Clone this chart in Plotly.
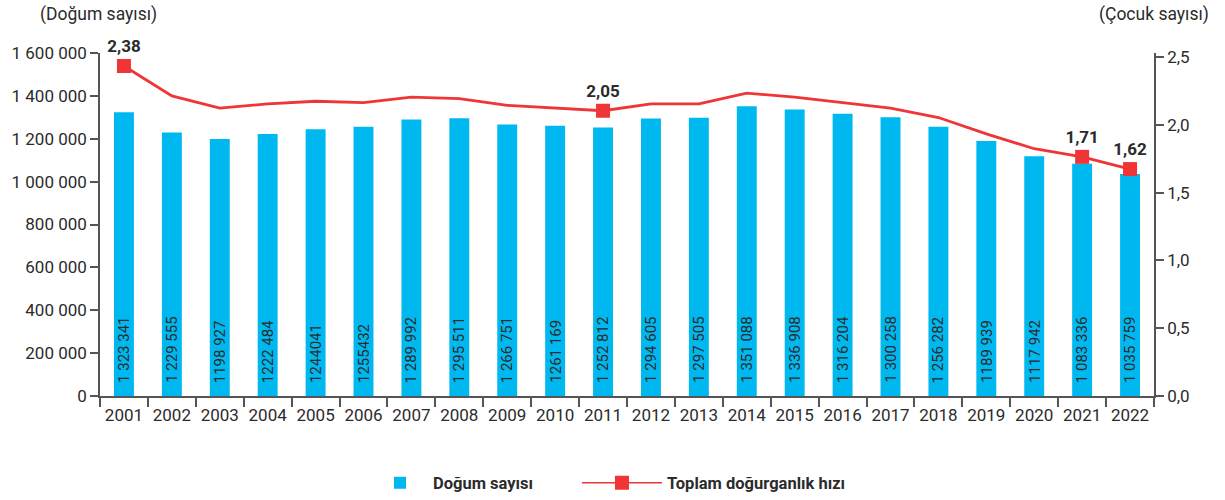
import plotly.graph_objects as go

years = [str(y) for y in range(2001, 2023)]
births = [1323341, 1229555, 1198927, 1222484, 1244041, 1255432, 1289992, 1295511,
          1266751, 1261169, 1252812, 1294605, 1297505, 1351088, 1336908, 1316204,
          1300258, 1256282, 1189939, 1117942, 1083336, 1035759]
birth_labels = ["1 323 341", "1 229 555", "1198 927", "1222 484", "1244041", "1255432",
                "1 289 992", "1 295 511", "1 266 751", "1261 169", "1 252 812", "1 294 605",
                "1 297 505", "1 351 088", "1 336 908", "1 316 204", "1 300 258", "1 256 282",
                "1189 939", "1117 942", "1 083 336", "1 035 759"]
tfr = [2.38, 2.16, 2.07, 2.10, 2.12, 2.11, 2.15, 2.14, 2.09, 2.07, 2.05, 2.10,
       2.10, 2.18, 2.15, 2.11, 2.07, 2.00, 1.88, 1.77, 1.71, 1.62]
highlight_years = ["2001", "2011", "2021", "2022"]
left_ticks = [0, 200000, 400000, 600000, 800000, 1000000, 1200000, 1400000, 1600000]
right_ticks = [0.0, 0.5, 1.0, 1.5, 2.0, 2.5]

BAR = "#00b8f0"
RED = "#ef3535"
TXT = "#2b2b2b"
AX = "#555555"
FONT = "Roboto"

hl_y = [v if y in highlight_years else None for y, v in zip(years, tfr)]
hl_txt = [("<b>%.2f</b>" % v).replace(".", ",") if v is not None else "" for v in hl_y]

fig = go.Figure()
fig.add_trace(go.Bar(
    x=years, y=births, name="Doğum sayısı", marker_color=BAR,
    marker_line_width=0, yaxis="y", hoverinfo="x+y", legend="legend",
))
# carrier for the right-hand axis (invisible)
fig.add_trace(go.Scatter(
    x=years, y=tfr, mode="lines", line=dict(width=0), opacity=0,
    yaxis="y2", showlegend=False, hoverinfo="skip",
))
fig.add_trace(go.Scatter(
    x=years, y=tfr, mode="lines", line=dict(color=RED, width=2.8),
    yaxis="y3", showlegend=False, legendgroup="tfr", hoverinfo="x+y",
))
fig.add_trace(go.Scatter(
    x=years, y=hl_y, mode="lines+markers+text", name="Toplam doğurganlık hızı",
    line=dict(color=RED, width=1.5), legendgroup="tfr", legend="legend2",
    marker=dict(symbol="square", size=14, color=RED),
    text=hl_txt, textposition="top center",
    textfont=dict(family=FONT, size=17, color=TXT),
    yaxis="y3", connectgaps=False, cliponaxis=False, hoverinfo="skip",
))

annotations = []
for i, lab in enumerate(birth_labels):
    annotations.append(dict(
        x=i, y=0, xref="x", yref="y", text=lab, textangle=-90,
        showarrow=False, yanchor="bottom", xanchor="center", yshift=11,
        font=dict(family=FONT, size=15, color=TXT),
    ))
annotations.append(dict(
    x=-0.001, y=1.1137, xref="paper", yref="paper", text="(Doğum sayısı)",
    showarrow=False, xanchor="center", yanchor="middle",
    font=dict(family=FONT, size=17.5, color=TXT),
))
annotations.append(dict(
    x=1.0, y=1.1137, xref="paper", yref="paper", text="(Çocuk sayısı)",
    showarrow=False, xanchor="center", yanchor="middle",
    font=dict(family=FONT, size=17.5, color=TXT),
))

legend_font = dict(family=FONT, size=16.5, color=TXT, weight="bold")

fig.update_layout(
    width=1225, height=500,
    margin=dict(l=96, r=71, t=53, b=104),
    paper_bgcolor="white", plot_bgcolor="white",
    separators=", ",
    font=dict(family=FONT, size=17, color=TXT),
    bargap=0.584,
    showlegend=True,
    legend=dict(
        orientation="h", x=0.2996, xanchor="left", xref="container",
        y=0.034, yanchor="middle", yref="container",
        font=legend_font, itemwidth=56,
    ),
    legend2=dict(
        orientation="h", x=0.471, xanchor="left", xref="container",
        y=0.034, yanchor="middle", yref="container",
        font=legend_font, itemwidth=80,
    ),
    xaxis=dict(
        type="category", tickson="boundaries", ticks="outside", ticklen=9,
        tickcolor=AX, tickwidth=1.5, showline=True, linecolor=AX, linewidth=1.5,
        showgrid=False, tickfont=dict(family=FONT, size=17, color=TXT),
        range=[-0.5, 21.5], ticklabelstandoff=3, tickangle=0,
    ),
    yaxis=dict(
        range=[0, 1600000], tickvals=left_ticks, tickformat=",d",
        ticks="outside", ticklen=8, tickcolor=AX, tickwidth=1.5,
        showline=True, linecolor=AX, linewidth=1.5, showgrid=False,
        zeroline=False, tickfont=dict(family=FONT, size=17, color=TXT),
    ),
    yaxis2=dict(
        overlaying="y", side="right", anchor="x",
        range=[0, 2.5 * 343 / 339], tickvals=right_ticks, tickformat=".1f",
        ticks="outside", ticklen=8, tickcolor=AX, tickwidth=1.5,
        showline=True, linecolor=AX, linewidth=1.5, showgrid=False,
        zeroline=False, tickfont=dict(family=FONT, size=17, color=TXT),
    ),
    yaxis3=dict(
        overlaying="y", visible=False, range=[-0.0536, 2.4759],
        showgrid=False, zeroline=False,
    ),
    annotations=annotations,
)

fig.write_html("out.html")
